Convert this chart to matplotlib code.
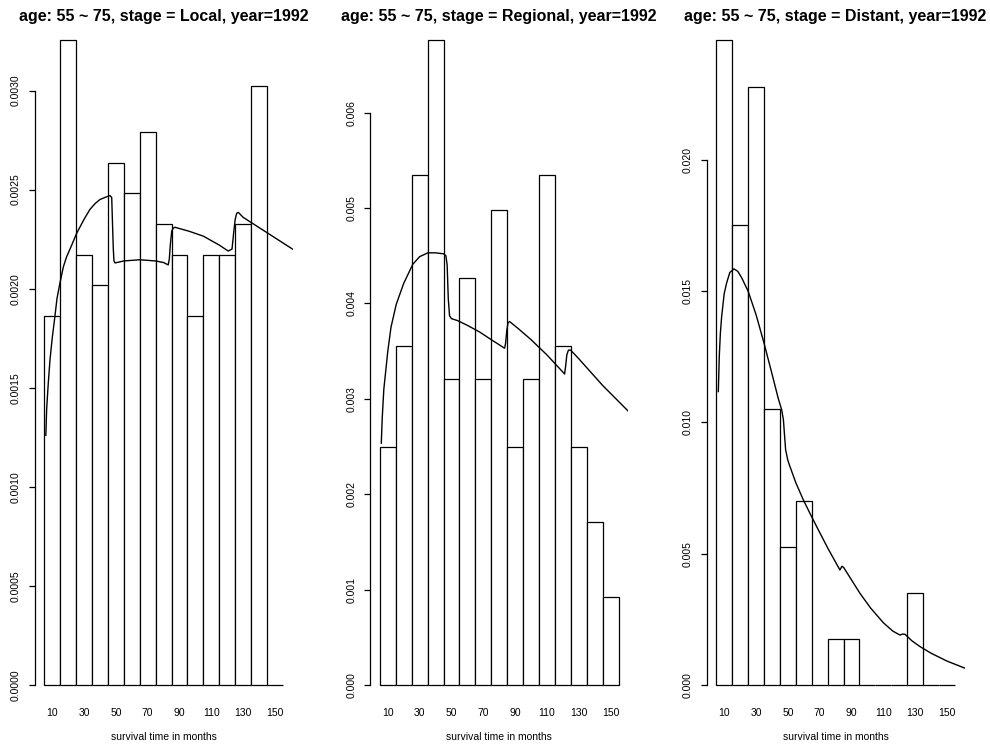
import numpy as np
import matplotlib
matplotlib.use("Agg")
import matplotlib.pyplot as plt

plt.rcParams["font.family"] = ["Liberation Sans", "DejaVu Sans"]

# ─── Data ─────────────────────────────────────────────────────────────────────
bin_centers = [10, 20, 30, 40, 50, 60, 70, 80, 90, 100, 110, 120, 130, 140, 150]

local_hist = [0.00186, 0.003256, 0.00217, 0.002017, 0.002635, 0.002483, 0.002791,
              0.002327, 0.00217, 0.00186, 0.00217, 0.00217, 0.002327, 0.003025, 0.0]
regional_hist = [0.00249, 0.003556, 0.005343, 0.006763, 0.003203, 0.00427, 0.003203,
                 0.004983, 0.00249, 0.003203, 0.005343, 0.003556, 0.00249, 0.00171, 0.000927]
distant_hist = [0.02456, 0.0175, 0.02275, 0.0105, 0.00525, 0.0070, 0.0, 0.00175,
                0.00175, 0.0, 0.0, 0.0, 0.0035, 0.0, 0.0]

# fitted density curves
local_curve_x = [6.0, 6.5, 7.5, 8.6, 10.0, 11.7, 13.0, 14.9, 17.0, 19.0, 21.2, 25.4,
                 30.0, 33.7, 37.0, 40.0, 43.0, 46.3, 47.4, 48.0, 48.4, 48.8, 49.5,
                 55.0, 65.0, 75.0, 80.0, 82.9, 83.6, 84.2, 85.1, 86.0, 87.1, 96.0,
                 105.0, 115.0, 120.6, 123.0, 124.0, 125.0, 125.9, 127.0, 130.0, 161.0]
local_curve_y = [0.00126, 0.00139, 0.00152, 0.00164, 0.00175, 0.00186, 0.00195, 0.00203,
                 0.00211, 0.00216, 0.00220, 0.00228, 0.00235, 0.00240, 0.00243, 0.00245,
                 0.00246, 0.00247, 0.00246, 0.00230, 0.00220, 0.00214, 0.00213,
                 0.00214, 0.002146, 0.00214, 0.002132, 0.00212, 0.00215, 0.00222,
                 0.00229, 0.002305, 0.00231, 0.00229, 0.002265, 0.00222, 0.00219,
                 0.00220, 0.00228, 0.00235, 0.00238, 0.002385, 0.00236, 0.00220]

regional_curve_x = [5.9, 6.5, 7.5, 9.0, 10.0, 12.0, 15.3, 20.0, 25.7, 30.0, 35.2, 40.0,
                    45.0, 46.5, 47.3, 48.0, 48.8, 50.0, 53.8, 60.0, 67.7, 75.0, 83.4,
                    84.0, 84.8, 85.6, 86.5, 92.4, 100.0, 110.0, 121.1, 121.8, 122.5,
                    123.5, 124.9, 130.0, 145.0, 161.3]
regional_curve_y = [0.002535, 0.00280, 0.00310, 0.00334, 0.00350, 0.00375, 0.00399,
                    0.00421, 0.00441, 0.00449, 0.00453, 0.00453, 0.00452, 0.00450,
                    0.00440, 0.00405, 0.00387, 0.00384, 0.00382, 0.00377, 0.00370,
                    0.00362, 0.00353, 0.00358, 0.00372, 0.00380, 0.00381, 0.00373,
                    0.00362, 0.00346, 0.00326, 0.00335, 0.00346, 0.00351, 0.00351,
                    0.00342, 0.00314, 0.002867]

distant_curve_x = [6.3, 6.9, 7.6, 8.4, 10.0, 11.5, 13.5, 16.1, 18.5, 21.0, 25.1, 30.0,
                   35.0, 40.0, 44.0, 46.1, 47.2, 47.8, 48.6, 50.0, 51.3, 55.0, 59.7,
                   64.0, 68.1, 75.0, 82.7, 84.0, 85.0, 90.0, 95.3, 102.0, 110.0, 116.0,
                   120.5, 122.0, 123.6, 128.0, 133.1, 140.0, 150.0, 161.3]
distant_curve_y = [0.01117, 0.0125, 0.0134, 0.01403, 0.0149, 0.0153, 0.0157, 0.01584,
                   0.01575, 0.0155, 0.01498, 0.0141, 0.01302, 0.01185, 0.0109, 0.01048,
                   0.0101, 0.0096, 0.00895, 0.00855, 0.00832, 0.0077, 0.00705, 0.00652,
                   0.00603, 0.00522, 0.00438, 0.00452, 0.00448, 0.0040, 0.00349,
                   0.00293, 0.00237, 0.00205, 0.0019, 0.00194, 0.00193, 0.00168,
                   0.00146, 0.00121, 0.00091, 0.00064]

stages = ["Local", "Regional", "Distant"]
x_tick_labels = [10, 30, 50, 70, 90, 110, 130, 150]
y_ticks = [
    [0.0, 0.0005, 0.0010, 0.0015, 0.0020, 0.0025, 0.0030],
    [0.000, 0.001, 0.002, 0.003, 0.004, 0.005, 0.006],
    [0.000, 0.005, 0.010, 0.015, 0.020],
]
y_fmt = ["{:.4f}", "{:.3f}", "{:.3f}"]

hists = [local_hist, regional_hist, distant_hist]
curves = [(local_curve_x, local_curve_y),
          (regional_curve_x, regional_curve_y),
          (distant_curve_x, distant_curve_y)]

# ─── Layout (pixels) ──────────────────────────────────────────────────────────
W, H = 990, 746
fig = plt.figure(figsize=(W / 100, H / 100), dpi=100)

LEFTS = [34.7, 370.3, 706.7]
PW = 257.8
BOTTOM = 685      # y = 0 line (from top)
TOP = 14

for i, stage in enumerate(stages):
    ax = fig.add_axes([LEFTS[i] / W, (H - BOTTOM) / H, PW / W, (BOTTOM - TOP) / H])
    ax.bar(bin_centers, hists[i], width=10, facecolor="white", edgecolor="black",
           linewidth=0.9, clip_on=False, zorder=2)
    ax.plot(curves[i][0], curves[i][1], color="black", linewidth=1.0, zorder=3)

    ax.set_xlim(-1, 161)
    ax.set_ylim(0, 1.04 * max(hists[i]))

    for s in ["top", "right", "bottom"]:
        ax.spines[s].set_visible(False)
    ax.spines["left"].set_bounds(y_ticks[i][0], y_ticks[i][-1])
    ax.spines["left"].set_linewidth(0.9)

    ax.set_yticks(y_ticks[i])
    ax.set_yticklabels([y_fmt[i].format(v) for v in y_ticks[i]])
    ax.tick_params(axis="y", length=4.3, width=0.9, pad=5.5, labelsize=7.5,
                   labelrotation=90, colors="black")
    for lab in ax.get_yticklabels():
        lab.set_va("center")

    ax.set_xticks(x_tick_labels)
    ax.set_xticklabels([str(v) for v in x_tick_labels])
    ax.tick_params(axis="x", length=0, pad=16.5, labelsize=7.5)

    cx = (LEFTS[i] + PW / 2) / W
    fig.text(cx, (H - 17) / H, f"age: 55 ~ 75, stage = {stage}, year=1992",
             ha="center", va="center", fontsize=11.5, fontweight="bold")
    fig.text(cx, (H - 737) / H, "survival time in months",
             ha="center", va="center", fontsize=7.5)

fig.savefig("out.png", dpi=100)
